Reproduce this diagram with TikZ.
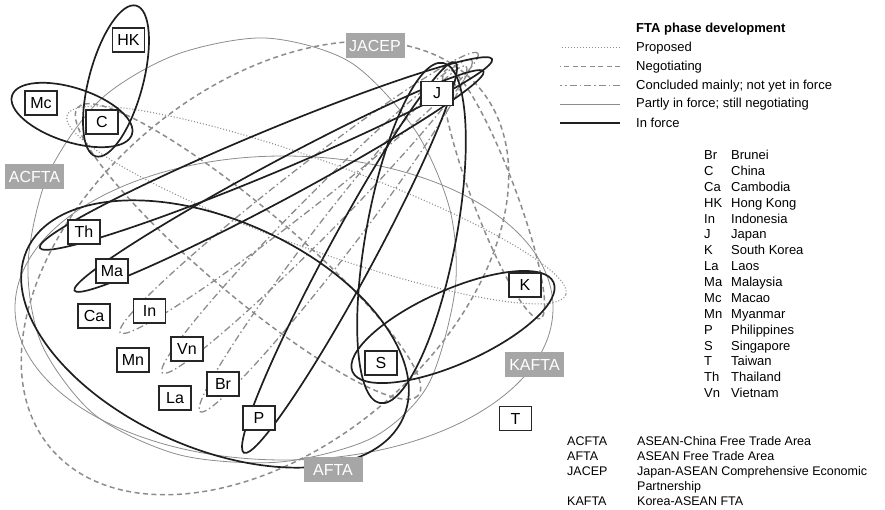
\documentclass[tikz,border=0pt]{standalone}
\usepackage{fontspec}
\setmainfont{Liberation Sans}
\tikzset{
  country/.style={draw=black!85, line width=1.1pt, fill=white, minimum width=32pt, minimum height=24pt, inner sep=0pt, font=\fontsize{16}{16}\selectfont},
  ftalabel/.style={fill=black!35, text=white, minimum width=59pt, minimum height=25pt, inner sep=0pt, font=\fontsize{16}{16}\selectfont},
  legtext/.style={anchor=west, inner sep=0pt, font=\fontsize{13}{13}\selectfont},
  proposed/.style={draw=black!45, line width=1.1pt, dash pattern=on 1pt off 2pt},
  negotiating/.style={draw=black!45, line width=1.5pt, dash pattern=on 5pt off 3.5pt},
  concluded/.style={draw=black!45, line width=1.3pt, dash pattern=on 7pt off 3pt on 1.5pt off 3pt},
  partly/.style={draw=black!45, line width=0.8pt},
  inforce/.style={draw=black!88, line width=1.7pt}
}
\begin{document}
\begin{tikzpicture}[x=1pt,y=-1pt]
\useasboundingbox (0,0) rectangle (885,510);
% partly in force
\draw[partly] plot[smooth cycle] coordinates {(265,38) (350,62) (415,130) (450,210) (455,290) (428,385) (372,438) (280,462) (180,455) (95,415) (42,345) (28,265) (48,175) (100,100) (175,55)};
\draw[partly] (284,308) ellipse [x radius=269, y radius=152];
% proposed
\draw[proposed, rotate around={-19.8:(316.5,205)}] (316.5,205) ellipse [x radius=265, y radius=44];
% negotiating
\draw[negotiating, rotate around={40:(265,268)}] (265,268) ellipse [x radius=280, y radius=180];
\draw[negotiating, rotate around={-40.2:(248,251.5)}] (248,251.5) ellipse [x radius=223, y radius=44];
\draw[negotiating, rotate around={-69.4:(493.5,194)}] (493.5,194) ellipse [x radius=133, y radius=22];
% concluded
\draw[concluded, rotate around={38:(299,193)}] (299,193) ellipse [x radius=227, y radius=20];
\draw[concluded, rotate around={45.3:(317,216.5)}] (317,216.5) ellipse [x radius=220, y radius=20];
\draw[concluded, rotate around={52.4:(333,239)}] (333,239) ellipse [x radius=218, y radius=20];
% in force
\draw[inforce, rotate around={75:(116,81)}] (116,81) ellipse [x radius=78, y radius=27];
\draw[inforce, rotate around={-18:(72,115)}] (72,115) ellipse [x radius=63, y radius=27];
\draw[inforce, rotate around={22.65:(266,153.5)}] (266,153.5) ellipse [x radius=245, y radius=21];
\draw[inforce, rotate around={28.2:(279,181)}] (279,181) ellipse [x radius=232, y radius=19];
\draw[inforce, rotate around={61.6:(349.5,257.5)}] (349.5,257.5) ellipse [x radius=222, y radius=23];
\draw[inforce, rotate around={79.5:(411.5,233)}] (411.5,233) ellipse [x radius=173, y radius=45];
\draw[inforce, rotate around={-24:(215,334)}] (215,334) ellipse [x radius=206, y radius=114];
\draw[inforce, rotate around={24:(453,327)}] (453,327) ellipse [x radius=110, y radius=37];
% agreements
\node[ftalabel] (jacep) at (375,45.5) {JACEP};
\node[ftalabel] (acfta) at (34.5,176.5) {ACFTA};
\node[ftalabel] (kafta) at (534.5,364.5) {KAFTA};
\node[ftalabel] (afta) at (333,469.5) {AFTA};
% economies
\node[country] (HK) at (128.5,40) {HK};
\node[country] (Mc) at (41,103) {Mc};
\node[country] (C) at (102,122) {C};
\node[country] (J) at (437,93.5) {J};
\node[country] (Th) at (84,232) {Th};
\node[country] (Ma) at (112,271) {Ma};
\node[country] (Ca) at (94,316) {Ca};
\node[country] (In) at (149.5,311) {In};
\node[country] (Vn) at (187,349) {Vn};
\node[country] (Mn) at (133,360) {Mn};
\node[country] (Br) at (223,384) {Br};
\node[country] (La) at (175,398) {La};
\node[country] (P) at (259,418) {P};
\node[country] (S) at (381,363) {S};
\node[country] (K) at (525,285) {K};
\node[country] (T) at (515.5,418.5) {T};
% legend
\node[legtext, font=\fontsize{13}{13}\selectfont\bfseries] (legend) at (636,29.3) {FTA phase development};
\node[legtext] (lprop) at (636,47.7) {Proposed};
\node[legtext] (lnego) at (636,66.7) {Negotiating};
\node[legtext] (lconc) at (636,85.7) {Concluded mainly; not yet in force};
\node[legtext] (lpart) at (636,104.2) {Partly in force; still negotiating};
\node[legtext] (lforce) at (636,122.7) {In force};
\draw[proposed] ([xshift=-16pt]lprop.west) -- +(-60,0);
\draw[negotiating] ([xshift=-16pt]lnego.west) -- +(-60,0);
\draw[concluded] ([xshift=-16pt]lconc.west) -- +(-60,0);
\draw[partly] ([xshift=-16pt]lpart.west) -- +(-60,0);
\draw[inforce] ([xshift=-16pt]lforce.west) -- +(-60,0);
\node[anchor=base west, inner sep=0pt, font=\fontsize{13}{15.87}\selectfont] (economies) at (704,159.6) {\begin{tabular}[t]{@{}p{27pt}@{}l@{}}
Br & Brunei\\ C & China\\ Ca & Cambodia\\ HK & Hong Kong\\ In & Indonesia\\ J & Japan\\ K & South Korea\\ La & Laos\\
Ma & Malaysia\\ Mc & Macao\\ Mn & Myanmar\\ P & Philippines\\ S & Singapore\\ T & Taiwan\\ Th & Thailand\\ Vn & Vietnam
\end{tabular}};
\node[anchor=base west, inner sep=0pt, font=\fontsize{12.5}{15.1}\selectfont] (agreements) at (567,445) {\begin{tabular}[t]{@{}p{70pt}@{}l@{}}
ACFTA & ASEAN-China Free Trade Area\\ AFTA & ASEAN Free Trade Area\\ JACEP & Japan-ASEAN Comprehensive Economic\\ & Partnership\\ KAFTA & Korea-ASEAN FTA
\end{tabular}};
\end{tikzpicture}
\end{document}
